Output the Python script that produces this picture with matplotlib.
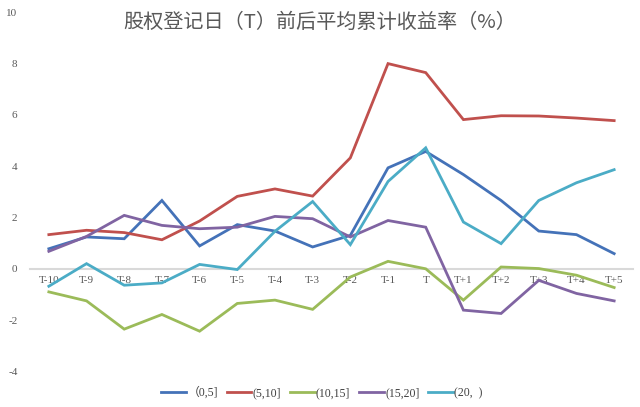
import matplotlib
matplotlib.use("Agg")
import matplotlib.pyplot as plt

categories = ["T-10", "T-9", "T-8", "T-7", "T-6", "T-5", "T-4", "T-3", "T-2", "T-1",
              "T", "T+1", "T+2", "T+3", "T+4", "T+5"]
s_0_5 = [0.78, 1.24, 1.17, 2.66, 0.89, 1.72, 1.47, 0.85, 1.30, 3.93, 4.57, 3.67, 2.66, 1.47, 1.33, 0.59]
s_5_10 = [1.33, 1.50, 1.41, 1.13, 1.86, 2.82, 3.11, 2.83, 4.32, 7.99, 7.64, 5.81, 5.96, 5.95, 5.87, 5.77]
s_10_15 = [-0.90, -1.25, -2.35, -1.78, -2.43, -1.35, -1.22, -1.58, -0.32, 0.29, 0.00, -1.22, 0.07, 0.01, -0.25, -0.73]
s_15_20 = [0.68, 1.26, 2.08, 1.69, 1.56, 1.62, 2.04, 1.95, 1.24, 1.88, 1.62, -1.61, -1.74, -0.45, -0.96, -1.25]
s_20 = [-0.68, 0.20, -0.64, -0.55, 0.17, -0.03, 1.46, 2.62, 0.94, 3.40, 4.71, 1.82, 0.98, 2.66, 3.35, 3.86]
series_labels = ["（0,5]", "(5,10]", "(10,15]", "(15,20]", "(20,  )"]
colors = ["#4472B8", "#C0504D", "#9BBB59", "#8064A2", "#4BACC6"]
yticks = [-4, -2, 0, 2, 4, 6, 8, 10]
title = "股权登记日（T）前后平均累计收益率（%）"

W, H = 640, 407
fig = plt.figure(figsize=(W / 100, H / 100), dpi=100)
ax = fig.add_axes([30 / W, 35.5 / H, 603 / W, 359.5 / H])

for s in ["top", "right", "left"]:
    ax.spines[s].set_visible(False)
ax.spines["bottom"].set_position(("data", 0))
ax.spines["bottom"].set_color("#D9D9D9")
ax.spines["bottom"].set_linewidth(1.5)
ax.spines["bottom"].set_zorder(1)

x = list(range(len(categories)))
for data, lab, c in zip([s_0_5, s_5_10, s_10_15, s_15_20, s_20], series_labels, colors):
    ax.plot(x, data, color=c, lw=2.0, label=lab, solid_joinstyle="miter", zorder=3)

ax.set_xlim(-0.5, len(categories) - 0.5)
ax.set_ylim(-4, 10)
ax.set_yticks(yticks)
ax.set_yticklabels([str(v) for v in yticks], family="Liberation Serif", fontsize=8, color="#595959")
ax.set_xticks(x)
ax.set_xticklabels(categories, family="Liberation Serif", fontsize=8, color="#595959")
ax.tick_params(axis="y", length=0, pad=9)
ax.tick_params(axis="x", length=0, pad=5)

fig.text(320 / W, 1 - 22 / H, title, ha="center", va="center",
         family=["Noto Sans CJK SC", "DejaVu Sans"], fontsize=14.5, color="#595959")

leg = fig.legend(loc="center", bbox_to_anchor=(322 / W, 1 - 393 / H), ncol=5, frameon=False,
                 prop={"family": ["Liberation Serif", "Noto Sans CJK SC"], "size": 8.5},
                 handlelength=2.1, handletextpad=0.1, columnspacing=0.75)
for t in leg.get_texts():
    t.set_color("#404040")

fig.savefig("out.png", dpi=100)
